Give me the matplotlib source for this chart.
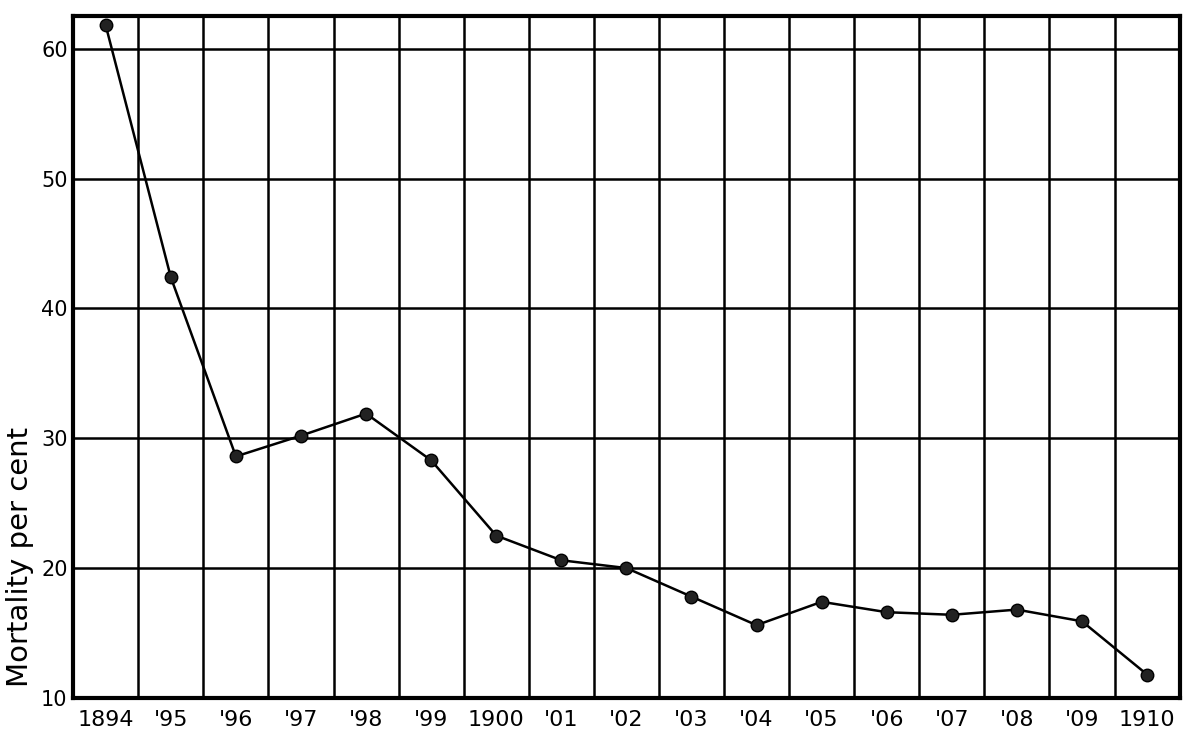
import matplotlib
matplotlib.use("Agg")
import matplotlib.pyplot as plt
import numpy as np

years = list(range(1894, 1911))
mortality = [61.8, 42.4, 28.6, 30.2, 31.9, 28.3, 22.5, 20.6, 20.0, 17.8,
             15.6, 17.4, 16.6, 16.4, 16.8, 15.9, 11.8]
year_labels = ["1894", "'95", "'96", "'97", "'98", "'99", "1900", "'01", "'02",
               "'03", "'04", "'05", "'06", "'07", "'08", "'09", "1910"]
y_ticks = [10, 20, 30, 40, 50, 60]
y_label = "Mortality per cent"

plt.rcParams['font.family'] = ['DejaVu Sans']

fig = plt.figure(figsize=(12, 7.44), dpi=100)
ax = fig.add_axes([0.061, 0.062, 0.922, 0.916])

x = np.arange(len(years))
ax.set_xlim(-0.5, len(years) - 0.5)
ax.set_ylim(10, 62.5)

# grid: vertical lines between years, horizontal at tick values
for b in np.arange(0.5, len(years) - 0.5, 1.0):
    ax.axvline(b, color='black', lw=1.8, zorder=1)
for t in y_ticks[1:]:
    ax.axhline(t, color='black', lw=1.8, zorder=1)

ax.plot(x, mortality, color='black', lw=1.8, marker='o', markersize=9,
        markerfacecolor='#222222', markeredgecolor='black', zorder=3)

for s in ax.spines.values():
    s.set_linewidth(3.0)
    s.set_color('black')

ax.set_yticks(y_ticks)
ax.set_yticklabels([str(t) for t in y_ticks], fontsize=15)
ax.set_xticks(x)
ax.set_xticklabels(year_labels, fontsize=16)
ax.tick_params(axis='y', length=0, pad=4)
ax.tick_params(axis='x', length=0, pad=9)

fig.text(0.017, 1 - 557 / 744, y_label, rotation=90, fontsize=21,
         ha='center', va='center')

fig.savefig("out.png", dpi=100, facecolor='white')
